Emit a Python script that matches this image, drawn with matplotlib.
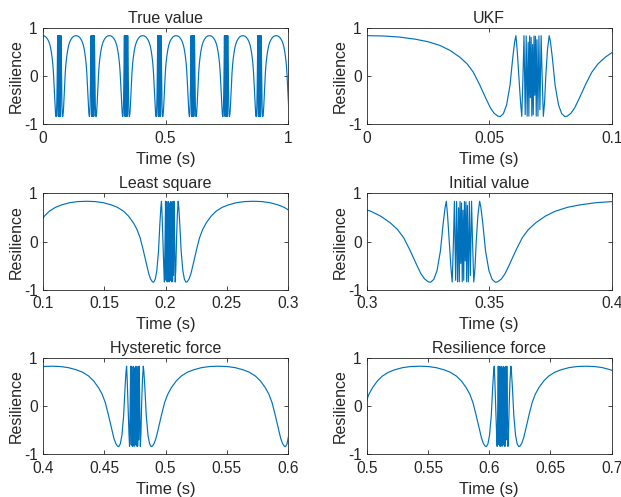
import numpy as np
import matplotlib
matplotlib.use('Agg')
import matplotlib.pyplot as plt

plt.rcParams['font.family'] = ['Liberation Sans', 'DejaVu Sans']
plt.rcParams['axes.unicode_minus'] = False

# one cycle of the resilience signal
# (time measured from the top of the slow hump)
cycle_t = [0.0000, 0.0070, 0.0135, 0.0200, 0.0250, 0.0300, 0.0340, 0.0380,
           0.0410, 0.0435, 0.0460, 0.0487, 0.0505, 0.0520, 0.0535, 0.0545,
           0.0558, 0.0571, 0.0585, 0.0596, 0.0604, 0.0609,
           0.0614, 0.0621, 0.0628, 0.0633, 0.0638, 0.0642,
           0.0647, 0.0651, 0.0655, 0.0659, 0.0662, 0.0665, 0.0668, 0.0671,
           0.0674, 0.0677, 0.0680, 0.0683, 0.0686, 0.0689, 0.0692, 0.0695,
           0.0699, 0.0703, 0.0707, 0.0712,
           0.0716, 0.0721, 0.0726, 0.0731, 0.0738, 0.0745,
           0.0750, 0.0758, 0.0769, 0.0783, 0.0796, 0.0809,
           0.0819, 0.0834, 0.0849, 0.0867, 0.0894, 0.0919, 0.0944, 0.0974,
           0.1014, 0.1054, 0.1104, 0.1154, 0.1219, 0.1284, 0.1340]
cycle_y = [0.835, 0.828, 0.805, 0.76, 0.71, 0.63, 0.53, 0.39,
           0.25, 0.08, -0.17, -0.47, -0.66, -0.77, -0.83, -0.84,
           -0.78, -0.60, -0.19, 0.37, 0.71, 0.835,
           0.55, 0.0, -0.55, -0.835, 0.0, 0.835,
           -0.80, 0.83, -0.83, 0.70, -0.83, 0.83, -0.45, 0.80,
           -0.83, 0.65, -0.80, 0.83, -0.40, 0.82, -0.83, 0.75,
           -0.83, 0.83, -0.70, 0.835,
           0.0, -0.835, -0.55, 0.0, 0.55, 0.835,
           0.71, 0.37, -0.19, -0.60, -0.78, -0.84,
           -0.83, -0.77, -0.66, -0.47, -0.17, 0.08, 0.25, 0.39,
           0.53, 0.63, 0.71, 0.76, 0.805, 0.828, 0.835]
cycle_period = 0.1358
t_end = 1.0

titles = ['True value', 'UKF', 'Least square', 'Initial value',
          'Hysteretic force', 'Resilience force']
xlims = [(0, 1), (0, 0.1), (0.1, 0.3), (0.3, 0.4), (0.4, 0.6), (0.5, 0.7)]
xticks = [[0, 0.5, 1], [0, 0.05, 0.1], [0.1, 0.15, 0.2, 0.25, 0.3],
          [0.3, 0.35, 0.4], [0.4, 0.45, 0.5, 0.55, 0.6],
          [0.5, 0.55, 0.6, 0.65, 0.7]]
xticklabels = [['0', '0.5', '1'], ['0', '0.05', '0.1'],
               ['0.1', '0.15', '0.2', '0.25', '0.3'],
               ['0.3', '0.35', '0.4'],
               ['0.4', '0.45', '0.5', '0.55', '0.6'],
               ['0.5', '0.55', '0.6', '0.65', '0.7']]
yticks = [-1, 0, 1]
yticklabels = ['-1', '0', '1']

assert len(cycle_t) == len(cycle_y)

# repeat the cycle over the whole record
t_list, y_list = [], []
k = 0
while k * cycle_period < t_end:
    for tt, yy in zip(cycle_t, cycle_y):
        t_list.append(k * cycle_period + tt)
        y_list.append(yy)
    k += 1
t_all = np.array(t_list)
y_all = np.array(y_list)

ink = '#262626'
line_color = '#0072BD'

fig = plt.figure(figsize=(6.21, 4.97), dpi=100)
lefts = [0.0688, 0.5905]
widths = [0.3955, 0.3945]
bottoms = [0.7499, 0.4165, 0.0859]
heights = [0.1944, 0.1946, 0.1932]

for i in range(6):
    row, col = i // 2, i % 2
    ax = fig.add_axes([lefts[col], bottoms[row], widths[col], heights[row]])
    ax.plot(t_all, y_all, color=line_color, linewidth=0.85)
    ax.set_xlim(*xlims[i])
    ax.set_ylim(-1, 1)
    ax.set_xticks(xticks[i])
    ax.set_xticklabels(xticklabels[i])
    ax.set_yticks(yticks)
    ax.set_yticklabels(yticklabels)
    ax.tick_params(direction='in', length=3, width=0.6, colors=ink,
                   labelsize=11.2, top=True, right=True)
    ax.tick_params(axis='x', pad=4.5)
    ax.tick_params(axis='y', pad=3.5)
    for s in ax.spines.values():
        s.set_color(ink)
        s.set_linewidth(0.6)
    ax.set_title(titles[i], fontsize=11.5, color=ink, pad=3.5)
    ax.set_xlabel('Time (s)', fontsize=11.8, color=ink, labelpad=4.5)
    ax.set_ylabel('Resilience', fontsize=11.5, color=ink, labelpad=0)

fig.savefig('out.png', dpi=100)
